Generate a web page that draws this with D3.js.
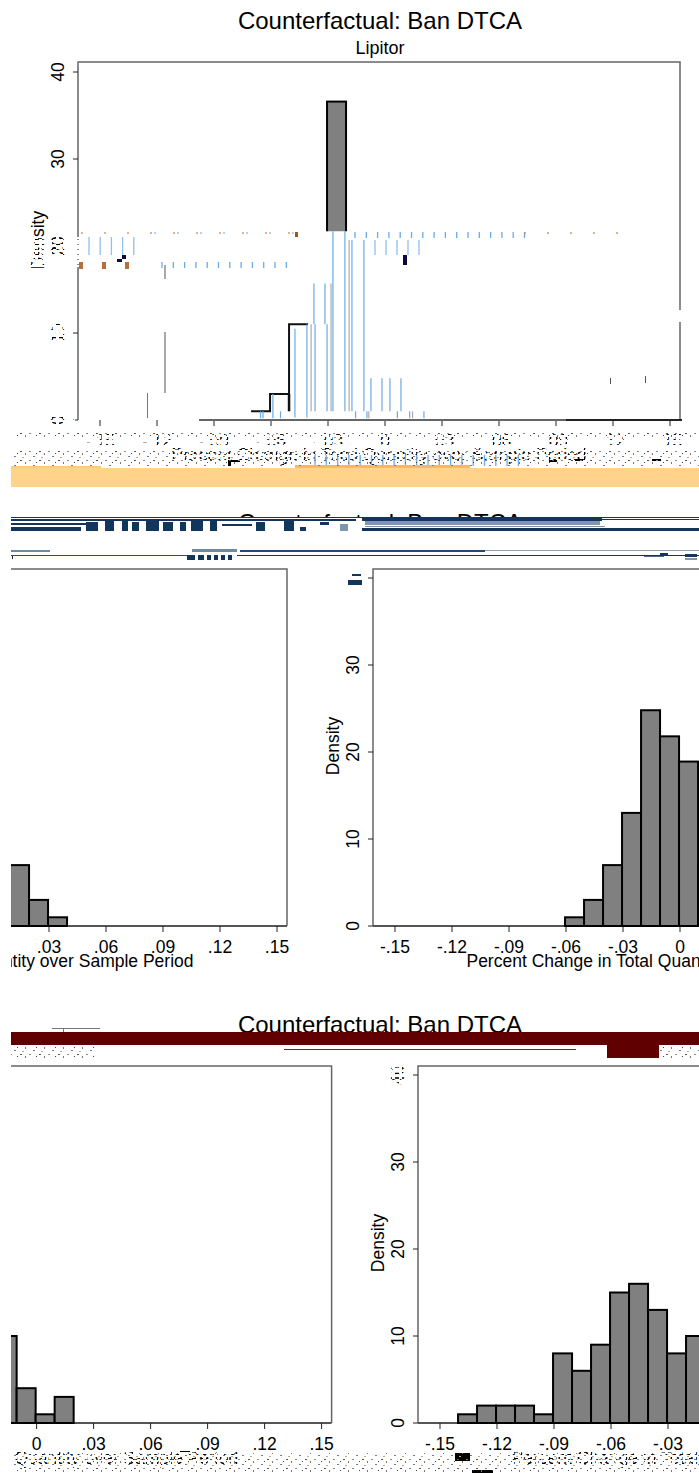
<!DOCTYPE html>
<html>
<head>
<meta charset="utf-8">
<script src="https://cdn.jsdelivr.net/npm/d3@7"></script>
<style>
  body { margin: 0; background: #fff; }
  svg { display: block; }
  text { font-family: "Liberation Sans", Arial, sans-serif; fill: #000; }
</style>
</head>
<body>
<svg id="chart" width="699" height="1473"></svg>
<script>
const xTickValues = [-.15, -.12, -.09, -.06, -.03, 0, .03, .06, .09, .12, .15];
const xTickLabels = ["-.15", "-.12", "-.09", "-.06", "-.03", "0", ".03", ".06", ".09", ".12", ".15"];
const yTickValues = [0, 10, 20, 30, 40];
const binWidth = .01;

const lipitorBins = [-.0705, -.0605, -.0505, -.0405, -.0305, -.0205, -.0105, -.0005];
const lipitorDensity = [1, 3, 11, 16, 36.6, 21, 5, 1];
const row2LeftBins = [.0095, .0195, .0295];
const row2LeftDensity = [7, 3, 1];
const row2RightBins = [-.0605, -.0505, -.0405, -.0305, -.0205, -.0105, -.0005, .0095];
const row2RightDensity = [1, 3, 7, 13, 24.8, 21.8, 18.9, 7];
const row3LeftBins = [-.0205, -.0105, -.0005, .0095];
const row3LeftDensity = [10, 4, 1, 3];
const row3RightBins = [-.1405, -.1305, -.1205, -.1105, -.1005, -.0905, -.0805, -.0705, -.0605, -.0505, -.0405, -.0305, -.0205];
const row3RightDensity = [1, 2, 2, 2, 1, 8, 6, 9, 15, 16, 13, 8, 10];

const titleText = "Counterfactual: Ban DTCA";
const xLabelText = "Percent Change in Total Quantity over Sample Period";

// what is left of the lower Lipitor bars in the picture: [x, density from, density to]
const lipitorBlue = [[-.0474, .3, 10.5], [-.0411, .3, 11], [-.0368, 1, 11], [-.0374, 11, 15.7], [-.0316, 11, 15.7],
  [-.0305, 1, 11], [-.0274, 1, 21.7], [-.0211, 1, 21.7], [-.0174, 1, 20.7], [-.0111, 1, 20.7],
  [-.0074, 1, 4.8], [-.0016, 1, 4.8], [.0026, 1, 4.8], [.0084, 1, 4.8],
  [-.0655, .2, 1], [-.0642, .2, 1], [-.059, .2, 3], [-.055, .2, 1], [-.0155, .2, 1], [-.0095, .2, 1], [.0065, .2, 1], [.013, .2, 1], [.0205, .2, 1]];
const lipitorGray = [[-.0389, 1, 11], [-.0284, 1, 15.7], [-.0189, 1, 20.7], [-.0085, .2, 1], [.0145, .2, 1]];

const svg = d3.select("#chart");
const defs = svg.append("defs");

defs.append("clipPath").attr("id", "page").append("rect")
  .attr("x", 11).attr("y", 0).attr("width", 688).attr("height", 1473);

// white tile that chops text into crumbs
const shred = defs.append("pattern").attr("id", "shred")
  .attr("width", 7).attr("height", 5).attr("patternUnits", "userSpaceOnUse");
shred.append("rect").attr("x", 0).attr("y", 0).attr("width", 7).attr("height", 2).attr("fill", "#fff");
shred.append("rect").attr("x", 0).attr("y", 2).attr("width", 3).attr("height", 2).attr("fill", "#fff");
shred.append("rect").attr("x", 4).attr("y", 4).attr("width", 3).attr("height", 1).attr("fill", "#fff");

// dark crumbs on white
const crumbs = defs.append("pattern").attr("id", "crumbs")
  .attr("width", 19).attr("height", 9).attr("patternUnits", "userSpaceOnUse");
[[1, 1, 2, 1, "#555"], [6, 3, 1, 2, "#777"], [10, 1, 2, 1, "#888"], [14, 6, 2, 1, "#5a7fa8"], [3, 7, 2, 1, "#caa878"], [17, 3, 1, 1, "#444"]]
  .forEach(d => crumbs.append("rect").attr("x", d[0]).attr("y", d[1]).attr("width", d[2]).attr("height", d[3]).attr("fill", d[4]));

function drawPanel(p) {
  const x = d3.scaleLinear().domain([-.15, .15]).range([p.zero - 285, p.zero + 285]);
  const y = d3.scaleLinear().domain([0, 40]).range([p.base, p.base - 348]);
  const g = svg.append("g").attr("clip-path", "url(#page)");
  const left = x(-.15) - 22, right = x(.15) + 10;

  // frame
  g.append("path")
    .attr("d", `M${left},${p.base}V${p.top}H${right}V${p.base}`)
    .attr("fill", "none").attr("stroke", "#666").attr("stroke-width", 1.5);
  if (!p.noBase) {
    g.append("line").attr("x1", left).attr("x2", right).attr("y1", p.base).attr("y2", p.base)
      .attr("stroke", "#555").attr("stroke-width", 2);
  }

  // y axis, only when it is on the page
  if (left > 0) {
    yTickValues.forEach(v => {
      g.append("line").attr("x1", left - 5).attr("x2", left).attr("y1", y(v)).attr("y2", y(v))
        .attr("stroke", "#222").attr("stroke-width", 1);
      g.append("text")
        .attr("transform", `translate(${left - 14},${y(v)}) rotate(-90)`)
        .attr("text-anchor", "middle").attr("font-size", 17.5).text(v);
    });
    g.append("text")
      .attr("transform", `translate(${left - 34},${y(20) - 6}) rotate(-90)`)
      .attr("text-anchor", "middle").attr("font-size", 17.5).text("Density");
  }

  // x axis
  xTickValues.forEach((v, i) => {
    if (x(v) < 11 || x(v) > 699) return;
    g.append("line").attr("x1", x(v)).attr("x2", x(v)).attr("y1", p.base).attr("y2", p.base + 6)
      .attr("stroke", "#222").attr("stroke-width", 1);
    g.append("text").attr("x", x(v)).attr("y", p.base + 27)
      .attr("text-anchor", "middle").attr("font-size", 17.5).text(xTickLabels[i]);
  });
  g.append("text").attr("x", (left + right) / 2).attr("y", p.base + 41)
    .attr("text-anchor", "middle").attr("font-size", 17.5).text(xLabelText);

  // bars
  const bars = g.append("g");
  if (p.topOnly) {
    const id = "clip" + p.base;
    defs.append("clipPath").attr("id", id).append("rect")
      .attr("x", 0).attr("y", 0).attr("width", 699).attr("height", y(p.topOnly));
    bars.attr("clip-path", `url(#${id})`);
  }
  bars.selectAll("rect").data(p.bins).enter().append("rect")
    .attr("x", d => x(d))
    .attr("width", d => x(d + binWidth) - x(d))
    .attr("y", (d, i) => y(p.density[i]))
    .attr("height", (d, i) => p.base - y(p.density[i]))
    .attr("fill", "#808080").attr("stroke", "#000").attr("stroke-width", 2);

  return { x, y, g };
}

svg.append("text").attr("x", 380).attr("y", 29).attr("text-anchor", "middle").attr("font-size", 24).text(titleText);
svg.append("text").attr("x", 380).attr("y", 54).attr("text-anchor", "middle").attr("font-size", 18).text("Lipitor");

const top1 = drawPanel({ zero: 385, base: 420, top: 62, bins: lipitorBins, density: lipitorDensity, topOnly: 21.7, noBase: true });

svg.append("text").attr("x", 380).attr("y", 531).attr("text-anchor", "middle").attr("font-size", 24).text(titleText);
drawPanel({ zero: -8, base: 926, top: 569, bins: row2LeftBins, density: row2LeftDensity });
drawPanel({ zero: 680, base: 926, top: 569, bins: row2RightBins, density: row2RightDensity });

svg.append("text").attr("x", 380).attr("y", 1033).attr("text-anchor", "middle").attr("font-size", 24).text(titleText);
drawPanel({ zero: 36.6, base: 1423, top: 1066, bins: row3LeftBins, density: row3LeftDensity });
drawPanel({ zero: 725, base: 1423, top: 1066, bins: row3RightBins, density: row3RightDensity });

// Lipitor: the lower bars only survive as outline and streaks
const damage = svg.append("g").attr("clip-path", "url(#page)");
const tx = top1.x, ty = top1.y;

// white gaps first
const whiteOuts = [
  [12, 428, 687, 38, "url(#shred)"],
  [30, 237, 50, 30, "url(#shred)"],
  [50, 318, 25, 108, "url(#shred)"],
  [12, 1450, 687, 23, "url(#shred)"],
  [386, 1066, 24, 20, "url(#shred)"],
  [340, 565, 27, 24, "#fff"],
  [678, 310, 5, 12, "#fff"],
  [11, 517, 688, 21, "#fff"]
];
whiteOuts.forEach(d => damage.append("rect").attr("x", d[0]).attr("y", d[1]).attr("width", d[2]).attr("height", d[3]).attr("fill", d[4]));

// step outline on the left of the histogram
damage.append("path")
  .attr("d", d3.line().curve(d3.curveStepAfter)
    .x(d => tx(d[0])).y(d => ty(d[1]))(
      [[lipitorBins[0], lipitorDensity[0]], [lipitorBins[1], lipitorDensity[1]], [lipitorBins[2], lipitorDensity[2]], [lipitorBins[3], lipitorDensity[2]]]))
  .attr("fill", "none").attr("stroke", "#111").attr("stroke-width", 2);
damage.append("line").attr("x1", tx(lipitorBins[2])).attr("x2", tx(lipitorBins[2]))
  .attr("y1", ty(lipitorDensity[1])).attr("y2", ty(1)).attr("stroke", "#111").attr("stroke-width", 2.5);

lipitorBlue.forEach(d => damage.append("line")
  .attr("x1", tx(d[0])).attr("x2", tx(d[0])).attr("y1", ty(d[1])).attr("y2", ty(d[2]))
  .attr("stroke", "#6aaae6").attr("stroke-width", 1.2));
lipitorGray.forEach(d => damage.append("line")
  .attr("x1", tx(d[0])).attr("x2", tx(d[0])).attr("y1", ty(d[1])).attr("y2", ty(d[2]))
  .attr("stroke", "#aaa").attr("stroke-width", 1.2));

// baseline only runs from the middle on
damage.append("line").attr("x1", 199).attr("x2", 680).attr("y1", 420).attr("y2", 420).attr("stroke", "#666").attr("stroke-width", 2);
damage.append("line").attr("x1", 566).attr("x2", 682).attr("y1", 420).attr("y2", 420).attr("stroke", "#222").attr("stroke-width", 2);

// regular little dashes left over in the top panel
function dashes(from, to, step, y0, y1, color) {
  damage.selectAll(null).data(d3.range(from, to, step)).enter().append("line")
    .attr("x1", d => d).attr("x2", d => d).attr("y1", y0).attr("y2", y1)
    .attr("stroke", color).attr("stroke-width", 1.3);
}
dashes(355, 525, 11.3, 232, 238, "#6aaae6");
dashes(525, 636, 23, 232, 234, "#c98b5a");
dashes(82, 298, 23, 232, 234, "#c98b5a");
dashes(155, 295, 23, 232, 234, "#8fb8e0");
dashes(375, 420, 11, 240, 255, "#8fc0ee");
dashes(89, 135, 11.2, 237, 255, "#8fc0ee");
dashes(162, 288, 11.3, 262, 268, "#6aaae6");
dashes(315, 522, 11.3, 455, 466, "#6aaae6");

// strips and blocks that cover the picture: [x, y, w, h, colour]
const strips = [
  [79, 262, 4, 7, "#b5703c"], [102, 262, 4, 7, "#b5703c"], [125, 262, 4, 7, "#b5703c"],
  [117, 259, 5, 3, "#0a0a40"], [122, 255, 4, 4, "#0a0a40"], [403, 255, 4, 10, "#0a0a40"],
  [295, 232, 3, 5, "#a5541e"], [164.5, 265, 1, 14, "#555"], [164.5, 332, 1, 61, "#555"], [147, 393, 1, 25, "#777"],
  [610, 378, 1, 6, "#555"], [645, 376, 1, 7, "#555"],
  [228, 460, 12, 2, "#000"], [228, 460, 3, 6, "#000"], [549, 460, 8, 2, "#000"], [575, 459, 8, 2, "#000"], [652, 459, 9, 2, "#000"],
  // tan band at the foot of the first chart
  [11, 468, 688, 19, "#ffd48a"], [295, 465, 175, 3, "#ffb566"], [11, 466, 90, 2, "#ffc98a"],
  // navy streaks over the second title
  [11, 517, 689, 1, "#12355b"], [11, 519, 345, 2, "#12355b"], [11, 523, 75, 2, "#12355b"], [11, 527, 70, 4, "#12355b"],
  [362, 518, 240, 3, "#12355b"], [602, 517, 97, 1, "#12355b"], [602, 519, 97, 1, "#12355b"],
  [365, 521, 235, 4, "#7f96ab"], [365, 526, 240, 1, "#7f96ab"], [362, 528, 337, 3, "#12355b"],
  [86, 522, 12, 9, "#12355b"], [105, 521, 9, 10, "#12355b"], [122, 520, 6, 11, "#12355b"], [132, 522, 7, 9, "#12355b"],
  [146, 521, 13, 10, "#12355b"], [163, 522, 10, 9, "#12355b"], [180, 522, 6, 9, "#12355b"], [191, 521, 12, 10, "#12355b"],
  [210, 521, 7, 10, "#12355b"], [222, 524, 30, 2, "#12355b"], [256, 522, 9, 9, "#12355b"], [284, 521, 10, 10, "#12355b"],
  [300, 527, 6, 4, "#12355b"], [320, 522, 9, 3, "#12355b"], [340, 524, 8, 7, "#7f96ab"],
  // row under the second title
  [11, 550, 39, 2, "#6a8aa6"], [11, 555, 176, 1, "#444466"], [12, 556, 1, 3, "#222"],
  [240, 550, 245, 2, "#1d4a78"], [237, 555, 462, 1, "#2a2a60"], [485, 550, 214, 1, "#8aa2b8"],
  [192, 549, 45, 3, "#6f8ba3"], [187, 555, 8, 5, "#12355b"], [198, 555, 6, 5, "#12355b"], [207, 555, 4, 5, "#12355b"],
  [214, 555, 4, 5, "#12355b"], [221, 555, 4, 5, "#12355b"], [228, 555, 4, 5, "#12355b"],
  [644, 556, 20, 1, "#4a6a8a"], [660, 553, 8, 3, "#12355b"], [685, 554, 12, 3, "#12355b"], [685, 558, 12, 2, "#7f96ab"],
  [352, 574, 9, 2, "#12355b"], [348, 580, 14, 5, "#12355b"],
  // dark red band over the third title
  [11, 1032, 688, 13, "#600000"], [607, 1045, 52, 13, "#600000"], [284, 1049, 292, 1, "#7a2020"],
  [52, 1028, 48, 1, "#777"], [63, 1028, 1, 4, "#777"],
  // scraps at the very bottom
  [455, 1453, 15, 8, "#000"], [472, 1470, 21, 3, "#000"], [180, 1451, 10, 1, "#000"]
];
strips.forEach(d => damage.append("rect").attr("x", d[0]).attr("y", d[1]).attr("width", d[2]).attr("height", d[3]).attr("fill", d[4]));

// speckled rows where only crumbs of text remain
const speckles = [[12, 450, 687, 16], [11, 1047, 84, 11], [658, 1047, 41, 11], [12, 1453, 687, 20], [12, 432, 687, 6]];
speckles.forEach(d => damage.append("rect").attr("x", d[0]).attr("y", d[1]).attr("width", d[2]).attr("height", d[3]).attr("fill", "url(#crumbs)"));
</script>
</body>
</html>
